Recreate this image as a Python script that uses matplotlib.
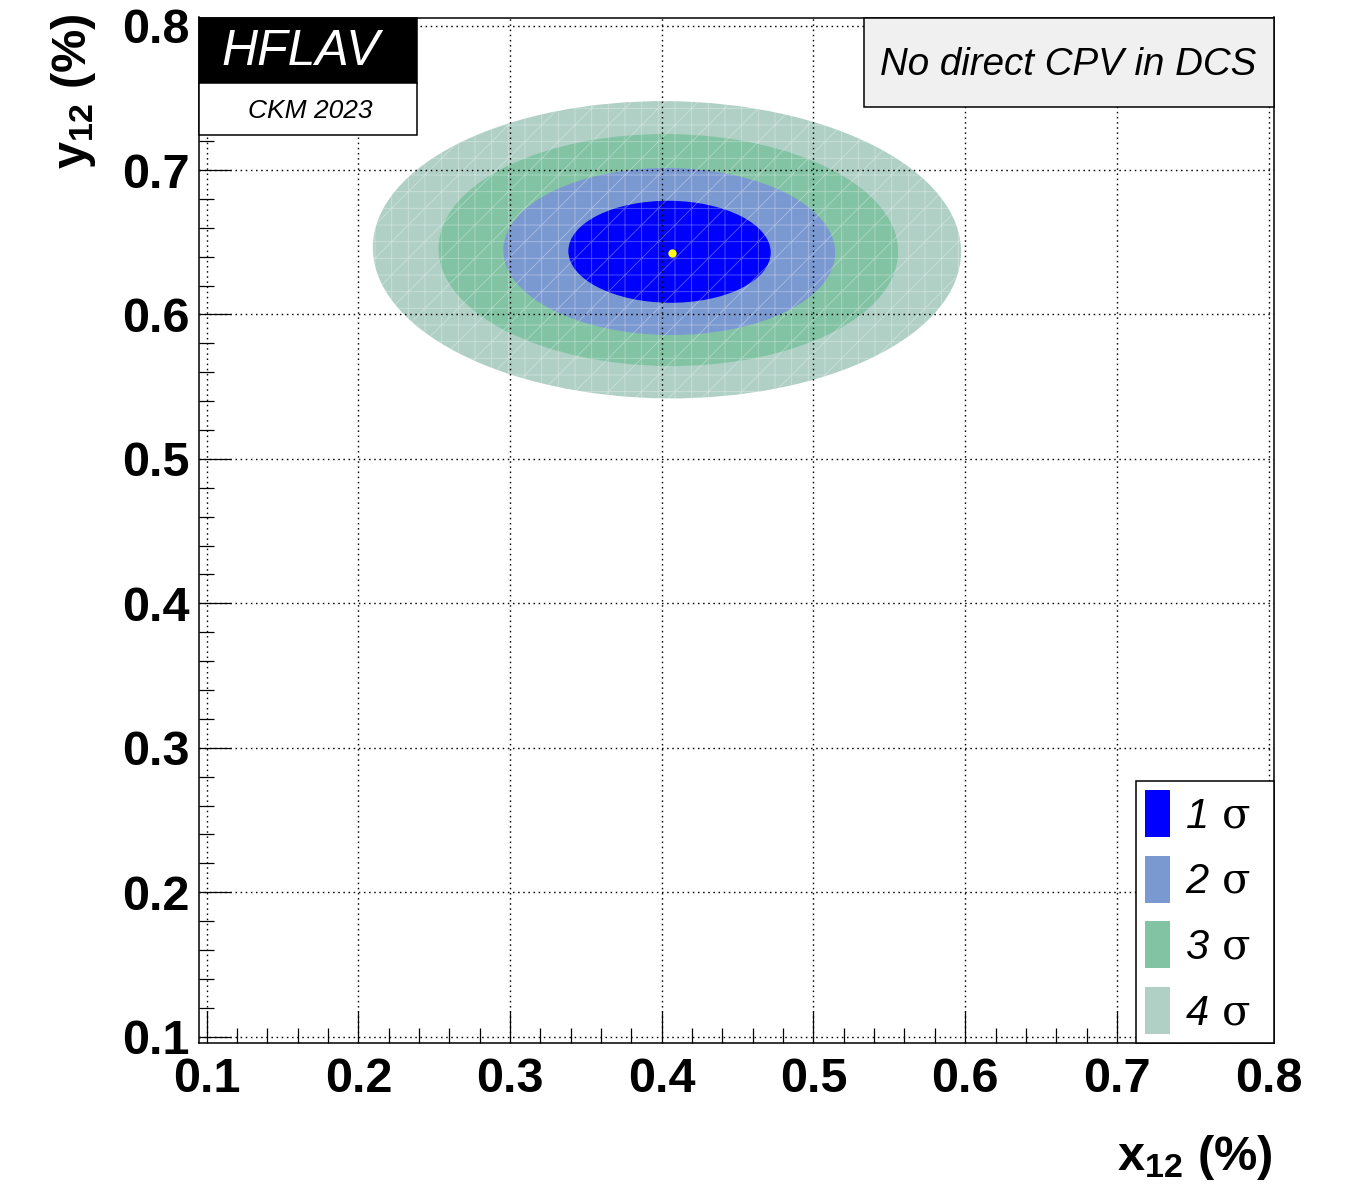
import matplotlib
matplotlib.use("Agg")
import matplotlib.pyplot as plt
from matplotlib.patches import Ellipse, Rectangle, Patch
from matplotlib.ticker import MultipleLocator

plt.rcParams['font.family'] = ['Liberation Sans', 'DejaVu Sans']
plt.rcParams['mathtext.fontset'] = 'custom'
plt.rcParams['mathtext.rm'] = 'Liberation Sans:italic'
plt.rcParams['mathtext.sf'] = 'DejaVu Serif'
plt.rcParams['mathtext.bf'] = 'Liberation Sans:bold'
plt.rcParams['hatch.linewidth'] = 0.6

# contour levels of the x12 / y12 fit (ellipse approximation of each region)
levels = ['1', '2', '3', '4']
center_x = [0.4051, 0.4049, 0.4043, 0.4034]
center_y = [0.6434, 0.6436, 0.6446, 0.6448]
width_x = [0.1334, 0.2187, 0.3030, 0.3878]
height_y = [0.0706, 0.1156, 0.1606, 0.2058]
tilt = [-0.6, -0.6, -0.6, -0.6]
colors = ['#0000ff', '#7b99d1', '#82c3a4', '#b0d0c6']

best_x = 0.4065
best_y = 0.6427

ticks = [0.1, 0.2, 0.3, 0.4, 0.5, 0.6, 0.7, 0.8]
tick_labels = ['0.1', '0.2', '0.3', '0.4', '0.5', '0.6', '0.7', '0.8']

W, H = 1353, 1187
fig = plt.figure(figsize=(W / 100, H / 100), dpi=100)
ax = fig.add_axes([199 / W, 1 - 1043.3 / H, 1075 / W, 1025.8 / H])

# outermost region first so the inner ones sit on top
for i in reversed(range(len(levels))):
    e = Ellipse((center_x[i], center_y[i]), width_x[i], height_y[i], angle=tilt[i],
                facecolor=colors[i], edgecolor=(1, 1, 1, 0.35), linewidth=0,
                hatch='+/', zorder=1)
    ax.add_patch(e)

ax.plot([best_x], [best_y], 'o', color='#ffff00', markersize=6, markeredgewidth=0, zorder=4)

ax.set_xlim(0.0949, 0.8036)
ax.set_ylim(0.0954, 0.8056)
ax.set_xticks(ticks, labels=tick_labels, fontweight='bold')
ax.set_yticks(ticks, labels=tick_labels, fontweight='bold')
ax.xaxis.set_minor_locator(MultipleLocator(0.02))
ax.yaxis.set_minor_locator(MultipleLocator(0.02))
ax.tick_params(which='both', direction='in', width=0.9, color='black')
ax.tick_params(which='major', length=23, labelsize=35)
ax.tick_params(which='minor', length=11)
ax.tick_params(axis='x', pad=10)
ax.tick_params(axis='y', pad=6.5)
ax.set_axisbelow(False)
ax.grid(True, which='major', color='black', linestyle=(0, (1.1, 2.6)), linewidth=1.0)
for s in ax.spines.values():
    s.set_linewidth(1.1)

fig.text(1272 / W, 1 - 1170 / H, r'$\mathbf{x_{12}}$ (%)', fontsize=35, fontweight='bold',
         ha='right', va='baseline')
fig.text(86 / W, 1 - 14 / H, r'$\mathbf{y_{12}}$ (%)', fontsize=35, fontweight='bold',
         rotation=90, rotation_mode='anchor', ha='right', va='baseline')

# HFLAV logo box
ax.add_patch(Rectangle((0, 0.9365), 0.2025, 0.0635, transform=ax.transAxes,
                       facecolor='black', edgecolor='black', linewidth=1.1,
                       clip_on=False, zorder=10))
ax.add_patch(Rectangle((0, 0.8855), 0.2025, 0.051, transform=ax.transAxes,
                       facecolor='white', edgecolor='black', linewidth=1.1,
                       clip_on=False, zorder=10))
ax.text(0.0949, 0.9537, 'HFLAV', transform=ax.transAxes, fontsize=36, style='italic',
        color='white', ha='center', va='baseline', zorder=11)
ax.text(0.1033, 0.9017, 'CKM 2023', transform=ax.transAxes, fontsize=19, style='italic',
        color='black', ha='center', va='baseline', zorder=11)

# assumption box
ax.add_patch(Rectangle((0.6186, 0.9125), 0.3814, 0.0875, transform=ax.transAxes,
                       facecolor='#f0f0f0', edgecolor='black', linewidth=1.1,
                       clip_on=False, zorder=10))
ax.text(0.8084, 0.9439, 'No direct CPV in DCS', transform=ax.transAxes, fontsize=27.7,
        style='italic', ha='center', va='baseline', zorder=11)

handles = [Patch(facecolor=c, edgecolor='none') for c in colors]
labels = [r'$%s\ \mathsf{\sigma}$' % lv for lv in levels]
leg = ax.legend(handles, labels, loc='lower left', bbox_to_anchor=(0.8716, 0, 0.1284, 0.25),
                mode='expand', borderaxespad=0, fontsize=30, handlelength=0.6,
                handleheight=1.36, labelspacing=0.45, handletextpad=0.35, borderpad=0.22,
                fancybox=False, edgecolor='black', framealpha=1)
leg.get_frame().set_linewidth(1.1)
leg.set_zorder(10)

fig.savefig('out.png', dpi=100)
